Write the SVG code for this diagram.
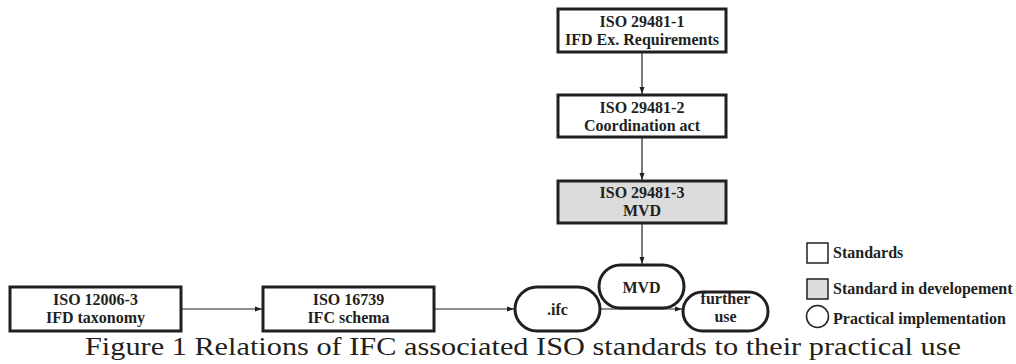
<svg xmlns="http://www.w3.org/2000/svg" width="1016" height="364" viewBox="0 0 1016 364">
  <style>
    .box { fill: #ffffff; stroke: #231f20; stroke-width: 3; }
    .dev { fill: #dcdcdc; stroke: #231f20; stroke-width: 3; }
    .pill { fill: #ffffff; stroke: #231f20; stroke-width: 3; }
    .lg { stroke-width: 1.5; }
    .t { font-family: "Liberation Serif", "Times New Roman", serif; font-weight: bold; font-size: 16px; fill: #231f20; text-anchor: middle; }
    .lt { font-family: "Liberation Serif", "Times New Roman", serif; font-weight: bold; font-size: 16px; fill: #231f20; }
    .cap { font-family: "Liberation Serif", "Times New Roman", serif; font-size: 26px; fill: #231f20; }
    .c { stroke: #231f20; stroke-width: 1.2; fill: none; marker-end: url(#ah); }
  </style>
  <defs>
    <marker id="ah" viewBox="0 0 7 6" refX="7" refY="3" markerWidth="7" markerHeight="6" markerUnits="userSpaceOnUse" orient="auto">
      <path d="M0,0.5 L7,3 L0,5.5 Z" fill="#231f20"/>
    </marker>
  </defs>

  <!-- connectors -->
  <g id="connectors">
    <line class="c" x1="642" y1="52" x2="642" y2="94"/>
    <line class="c" x1="642" y1="137" x2="642" y2="180"/>
    <line class="c" x1="642" y1="223" x2="642" y2="264"/>
    <line class="c" x1="181" y1="309" x2="262" y2="309"/>
    <line class="c" x1="434" y1="309" x2="514" y2="309"/>
    <line class="c" x1="600" y1="309" x2="682" y2="309"/>
  </g>

  <g id="iso29481-1">
    <rect class="box" x="558" y="9" width="168" height="43"/>
    <text class="t" x="642" y="27">ISO 29481-1</text>
    <text class="t" x="642" y="45">IFD Ex. Requirements</text>
  </g>

  <g id="iso29481-2">
    <rect class="box" x="558" y="95" width="168" height="42"/>
    <text class="t" x="642" y="113">ISO 29481-2</text>
    <text class="t" x="642" y="131">Coordination act</text>
  </g>

  <g id="iso29481-3">
    <rect class="dev" x="558" y="181" width="168" height="42"/>
    <text class="t" x="642" y="198">ISO 29481-3</text>
    <text class="t" x="642" y="216">MVD</text>
  </g>

  <g id="iso12006-3">
    <rect class="box" x="10" y="287" width="171" height="44"/>
    <text class="t" x="95.5" y="305">ISO 12006-3</text>
    <text class="t" x="95.5" y="323">IFD taxonomy</text>
  </g>

  <g id="iso16739">
    <rect class="box" x="263" y="287" width="171" height="44"/>
    <text class="t" x="348.5" y="305">ISO 16739</text>
    <text class="t" x="348.5" y="323">IFC schema</text>
  </g>

  <g id="ifc">
    <rect class="pill" x="515" y="287" width="85" height="44" rx="22"/>
    <text class="t" x="557.5" y="315">.ifc</text>
  </g>

  <g id="further-use">
    <rect class="pill" x="683" y="292" width="85" height="39" rx="19.5"/>
    <text class="t" x="725.5" y="304">further</text>
    <text class="t" x="725.5" y="322">use</text>
  </g>

  <g id="mvd">
    <rect class="pill" x="599" y="265" width="85" height="43" rx="21.5"/>
    <text class="t" x="641.5" y="293">MVD</text>
  </g>

  <!-- legend -->
  <g id="legend">
    <rect class="box lg" x="807" y="243" width="21" height="20"/>
    <text class="lt" x="833" y="258">Standards</text>
    <rect class="dev lg" x="807" y="279" width="21" height="20"/>
    <text class="lt" x="833" y="294">Standard in developement</text>
    <circle class="box lg" cx="817.5" cy="316.5" r="11"/>
    <text class="lt" x="833" y="324">Practical implementation</text>
  </g>

  <text class="cap" x="85" y="355" textLength="876" lengthAdjust="spacingAndGlyphs">Figure 1 Relations of IFC associated ISO standards to their practical use</text>
</svg>
